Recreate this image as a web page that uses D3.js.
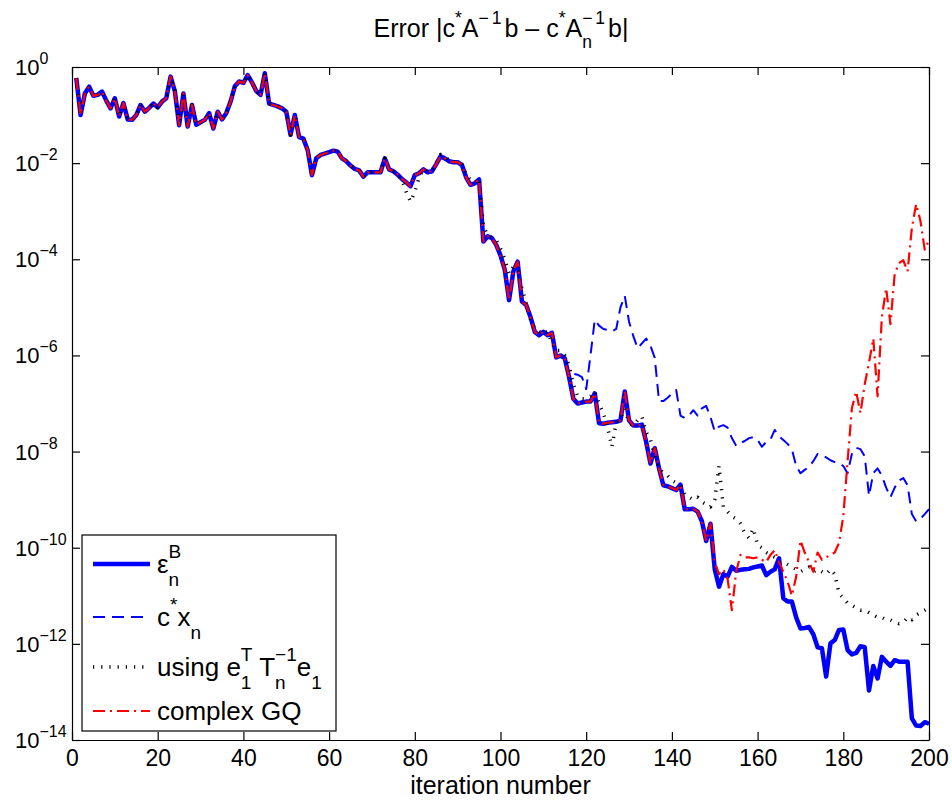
<!DOCTYPE html>
<html>
<head>
<meta charset="utf-8">
<script src="https://cdn.jsdelivr.net/npm/d3@7"></script>
<style>
  body { margin: 0; background: #fff; }
  svg { display: block; font-family: "Liberation Sans", Arial, sans-serif; }
</style>
</head>
<body>
<div id="chart"></div>
<script>
// log10 of the error, iterations 1..200
const errB = [
  -0.23, -1.0, -0.55, -0.41, -0.6, -0.58, -0.51, -0.7, -0.86, -0.65,
  -1.03, -0.75, -1.09, -1.1, -1.0, -0.79, -0.93, -0.85, -0.76, -0.84,
  -0.72, -0.65, -0.2, -0.5, -1.21, -0.55, -1.24, -0.79, -1.2, -1.15,
  -1.1, -0.96, -1.28, -0.93, -1.09, -0.96, -0.72, -0.4, -0.3, -0.33,
  -0.17, -0.32, -0.5, -0.58, -0.13, -0.76, -0.79, -0.82, -0.86, -0.93,
  -1.41, -1.0, -1.46, -1.49, -1.73, -2.25, -1.9, -1.83, -1.8, -1.77,
  -1.74, -1.76, -1.9, -1.96, -2.05, -2.12, -2.15, -2.28, -2.19, -2.19,
  -2.19, -2.19, -1.9, -2.13, -2.17, -2.24, -2.33, -2.4, -2.48, -2.25,
  -2.21, -2.13, -2.19, -2.17, -2.02, -1.86, -1.9, -1.96, -1.98, -1.98,
  -2.04, -2.3, -2.45, -2.42, -2.34, -3.63, -3.52, -3.56, -3.7, -3.92,
  -4.22, -4.85, -4.25, -4.05, -4.88, -4.95, -5.2, -5.51, -5.58, -5.51,
  -5.58, -5.53, -6.04, -6.0, -6.06, -6.45, -6.9, -7.0, -6.98, -6.96,
  -6.96, -6.79, -7.41, -7.42, -7.4, -7.39, -7.38, -7.35, -6.75, -7.35,
  -7.46, -7.46, -7.44, -7.8, -8.25, -7.93, -8.35, -8.7, -8.72, -8.76,
  -8.8, -8.69, -9.2, -9.2, -9.19, -9.25, -9.45, -9.86, -9.5, -10.45,
  -10.81, -10.55, -10.6, -10.4, -10.48, -10.46, -10.45, -10.44, -10.41, -10.39,
  -10.37, -10.57, -10.5, -10.45, -10.22, -11.05, -11.12, -11.12, -11.45, -11.68,
  -11.67, -11.65, -11.8, -12.07, -12.09, -12.68, -11.99, -11.92, -11.71, -11.7,
  -12.13, -12.22, -12.19, -12.05, -12.07, -12.97, -12.46, -12.72, -12.27, -12.37,
  -12.46, -12.34, -12.37, -12.37, -12.37, -13.55, -13.7, -13.71, -13.63, -13.66
];

// c*x_n: same as errB up to iteration 115, own values from 116
const cxFrom = 116;
const cxTail = [
  -6.4, -6.38, -6.4, -6.45, -6.7,
  -6.0, -5.26, -5.38, -5.45, -5.47, -5.5, -5.45, -5.0, -4.76, -5.3,
  -5.6, -5.85, -5.75, -5.65, -5.8, -6.05, -6.95, -6.95, -6.88, -6.8,
  -6.72, -7.25, -7.3, -7.25, -7.14, -7.25, -7.1, -7.05, -7.28, -7.58,
  -7.48, -7.45, -7.5, -7.72, -7.88, -7.82, -7.78, -7.72, -7.7, -7.76,
  -7.9, -7.8, -7.75, -7.55, -7.68, -7.76, -7.84, -7.95, -8.3, -8.45,
  -8.38, -8.32, -8.2, -8.05, -8.08, -8.12, -8.18, -8.22, -8.24, -8.3,
  -8.45, -8.05, -7.92, -7.95, -8.1, -8.92, -8.45, -8.35, -8.5, -8.75,
  -8.95, -8.75, -8.6, -8.55, -8.7, -9.3, -9.45, -9.4, -9.3, -9.2
];

// e1' inv(T_n) e1: same as errB up to 76
const tFrom = 77;
const tTail = [
  -2.35, -2.6, -2.8, -2.6,
  -2.3, -2.12, -2.18, -2.15, -2.0, -1.82, -1.85, -1.95, -1.97, -1.97,
  -2.02, -2.25, -2.35, -2.4, -2.32, -3.3, -3.5, -3.55, -3.6, -3.78,
  -4.0, -4.3, -4.15, -4.25, -4.6, -4.9, -5.25, -5.45, -5.5, -5.55,
  -5.5, -5.75, -5.9, -5.9, -6.0, -6.2, -6.6, -6.85, -6.9, -6.9,
  -6.85, -6.75, -7.0, -7.2, -7.5, -7.9, -7.4, -7.3, -7.1, -7.4,
  -7.45, -7.35, -7.27, -7.6, -7.75, -8.1, -8.35, -8.45, -8.5, -8.6,
  -8.65, -8.7, -8.9, -8.95, -9.0, -8.95, -9.05, -9.1, -9.15, -9.0,
  -8.3, -9.15, -9.25, -9.35, -9.4, -9.5, -9.7, -9.8, -9.6, -9.95,
  -10.0, -10.1, -10.15, -10.2, -10.3, -10.3, -10.35, -10.4, -10.45, -10.5,
  -10.45, -10.4, -10.5, -10.45, -10.5, -10.55, -10.45, -10.55, -10.95, -11.05,
  -11.15, -11.2, -11.25, -11.3, -11.3, -11.35, -11.4, -11.45, -11.45, -11.5,
  -11.5, -11.55, -11.58, -11.55, -11.45, -11.5, -11.4, -11.35, -11.3, -11.25
];

// complex GQ: same as errB up to 149
const gqFrom = 150;
const gqTail = [
  -10.3,
  -10.55, -10.45, -10.65, -11.3, -10.5, -10.15, -10.2, -10.2, -10.22, -10.2,
  -10.25, -10.3, -10.15, -10.05, -10.3, -10.5, -10.7, -11.0, -10.6, -9.85,
  -10.1, -10.3, -10.5, -10.1, -10.25, -10.2, -10.15, -10.1, -9.9, -9.35,
  -8.2, -7.1, -6.75, -7.2, -6.6, -6.15, -5.65, -6.85, -5.2, -4.6,
  -5.35, -4.3, -4.08, -4.02, -4.25, -3.35, -2.85, -3.2, -3.8, -3.6
];

const xTicks = [0, 20, 40, 60, 80, 100, 120, 140, 160, 180, 200];
const yTickExps = [0, -2, -4, -6, -8, -10, -12, -14];

const W = 952, H = 800;
const plot = { left: 72, right: 929, top: 67, bottom: 740 };

const svg = d3.select("#chart").append("svg")
  .attr("width", W)
  .attr("height", H);

const x = d3.scaleLinear().domain([0, 200]).range([plot.left, plot.right]);
const y = d3.scaleLog().domain([1e-14, 1]).range([plot.bottom, plot.top]);

const toPoints = arr => arr.map((e, i) => ({ n: i + 1, v: Math.pow(10, e) }));

const series = [
  { key: "B", data: toPoints(errB), color: "#0000ff", width: 4.5, dash: null },
  { key: "cx", data: toPoints(errB.slice(0, cxFrom - 1).concat(cxTail)), color: "#0000ff", width: 2, dash: "12,7" },
  { key: "T", data: toPoints(errB.slice(0, tFrom - 1).concat(tTail)), color: "#000", width: 3.5, dash: "1.2,7" },
  { key: "GQ", data: toPoints(errB.slice(0, gqFrom - 1).concat(gqTail)), color: "#ff0000", width: 2.2, dash: "12,5,2,5" }
];

svg.append("clipPath").attr("id", "plot-clip")
  .append("rect")
  .attr("x", plot.left).attr("y", plot.top)
  .attr("width", plot.right - plot.left).attr("height", plot.bottom - plot.top);

const line = d3.line()
  .x(d => x(d.n))
  .y(d => y(d.v));

svg.append("g")
  .attr("clip-path", "url(#plot-clip)")
  .selectAll("path")
  .data(series)
  .join("path")
  .attr("fill", "none")
  .attr("stroke", d => d.color)
  .attr("stroke-width", d => d.width)
  .attr("stroke-dasharray", d => d.dash)
  .attr("stroke-linejoin", "round")
  .attr("d", d => line(d.data));

// axes box, ticks pointing inwards on all four sides
const yTickVals = yTickExps.map(e => Math.pow(10, e));

const xAxis = svg.append("g")
  .attr("transform", `translate(0,${plot.bottom})`)
  .call(d3.axisBottom(x).tickValues(xTicks).tickSizeInner(-8).tickSizeOuter(0).tickPadding(10));
xAxis.selectAll("text")
  .attr("font-size", 23)
  .attr("font-family", "Liberation Sans, Arial, sans-serif")
  .attr("fill", "#000");

svg.append("g")
  .attr("transform", `translate(0,${plot.top})`)
  .call(d3.axisTop(x).tickValues(xTicks).tickSizeInner(-8).tickSizeOuter(0).tickFormat(""));

svg.append("g")
  .attr("transform", `translate(${plot.left},0)`)
  .call(d3.axisLeft(y).tickValues(yTickVals).tickSizeInner(-8).tickSizeOuter(0).tickFormat(""));

svg.append("g")
  .attr("transform", `translate(${plot.right},0)`)
  .call(d3.axisRight(y).tickValues(yTickVals).tickSizeInner(-8).tickSizeOuter(0).tickFormat(""));

svg.selectAll(".domain, .tick line").attr("stroke", "#000").attr("stroke-width", 1.2);

// text with super/subscripts; stack:true puts a part above/below the previous one
function rich(text, parts, small, up, down) {
  let off = 0, prevLen = 0;
  parts.forEach(p => {
    const target = p.s === "sup" ? -up : p.s === "sub" ? down : 0;
    const ts = text.append("tspan").attr("dy", target - off).text(p.t);
    if (p.s) ts.attr("font-size", small);
    if (p.ls) ts.attr("letter-spacing", p.ls);
    if (p.stack) ts.attr("dx", -prevLen);
    off = target;
    prevLen = ts.node().getComputedTextLength();
  });
  return text;
}

const yLabels = svg.append("g").attr("font-size", 22).attr("fill", "#000");
yTickExps.forEach(e => {
  const t = yLabels.append("text")
    .attr("x", 15)
    .attr("y", y(Math.pow(10, e)) + 8);
  rich(t, [{ t: "10" }, { t: e < 0 ? "\u2212" + (-e) : String(e), s: "sup" }], 16, 11, 0);
});

svg.append("text")
  .attr("x", (plot.left + plot.right) / 2)
  .attr("y", 794)
  .attr("text-anchor", "middle")
  .attr("font-size", 25)
  .text("iteration number");

// title
const title = svg.append("text")
  .attr("x", 501)
  .attr("y", 37)
  .attr("text-anchor", "middle")
  .attr("font-size", 25);
rich(title, [
  { t: "Error |c" }, { t: "*", s: "sup" }, { t: "A" }, { t: "\u22121", s: "sup", ls: 3 },
  { t: "b \u2013 c" }, { t: "*", s: "sup" }, { t: "A" }, { t: "n", s: "sub" },
  { t: "\u22121", s: "sup", stack: true, ls: 3 }, { t: "b|" }
], 17.5, 13, 11);

// legend
const legend = svg.append("g");
legend.append("rect")
  .attr("x", 82).attr("y", 535)
  .attr("width", 254).attr("height", 196)
  .attr("fill", "#fff")
  .attr("stroke", "#000")
  .attr("stroke-width", 1.2);

const legendRows = [
  { y: 564, parts: [{ t: "\u03b5" }, { t: "B", s: "sup" }, { t: "n", s: "sub", stack: true }] },
  { y: 617, parts: [{ t: "c" }, { t: "*", s: "sup" }, { t: "x" }, { t: "n", s: "sub" }] },
  { y: 667, parts: [{ t: "using e" }, { t: "1", s: "sub" }, { t: "T", s: "sup", stack: true },
    { t: " T" }, { t: "n", s: "sub" }, { t: "\u22121", s: "sup", stack: true }, { t: "e" }, { t: "1", s: "sub" }] },
  { y: 711, parts: [{ t: "complex GQ" }] }
];

legendRows.forEach((row, i) => {
  const s = series[i];
  legend.append("line")
    .attr("x1", 93).attr("x2", 150)
    .attr("y1", row.y).attr("y2", row.y)
    .attr("stroke", s.color)
    .attr("stroke-width", s.width)
    .attr("stroke-dasharray", s.dash);
  const t = legend.append("text")
    .attr("x", 157)
    .attr("y", row.y + 9)
    .attr("font-size", 26);
  rich(t, row.parts, 19, 15, 13);
});
</script>
</body>
</html>
